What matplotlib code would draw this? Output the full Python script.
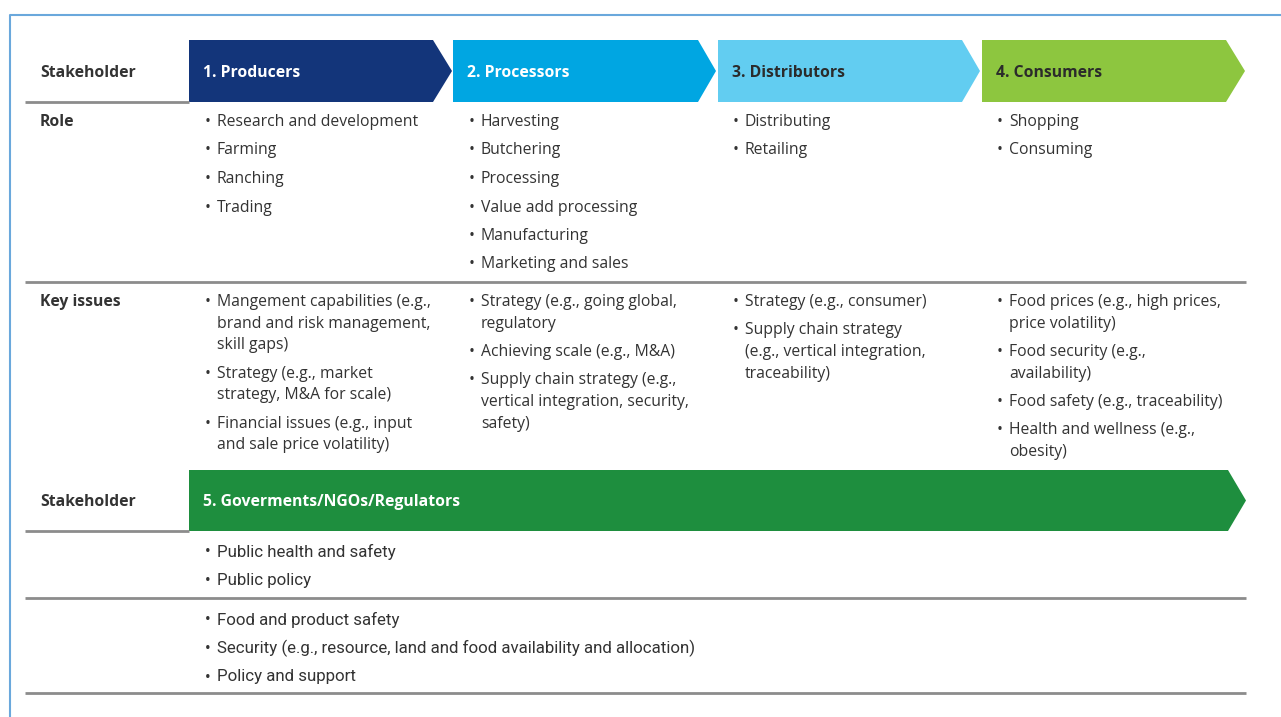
import matplotlib.pyplot as plt
from matplotlib.patches import Polygon

# Dados do diagrama
stakeholders = ['1. Producers', '2. Processors', '3. Distributors', '4. Consumers']
stage_colors = ['#13357a', '#00a6e2', '#62cdf1', '#8dc63f']
stage_text = ['white', 'white', '#2b2b2b', '#2b2b2b']

roles = [
    [['Research and development'], ['Farming'], ['Ranching'], ['Trading']],
    [['Harvesting'], ['Butchering'], ['Processing'], ['Value add processing'],
     ['Manufacturing'], ['Marketing and sales']],
    [['Distributing'], ['Retailing']],
    [['Shopping'], ['Consuming']],
]

key_issues = [
    [['Mangement capabilities (e.g.,', 'brand and risk management,', 'skill gaps)'],
     ['Strategy (e.g., market', 'strategy, M&A for scale)'],
     ['Financial issues (e.g., input', 'and sale price volatility)']],
    [['Strategy (e.g., going global,', 'regulatory'],
     ['Achieving scale (e.g., M&A)'],
     ['Supply chain strategy (e.g.,', 'vertical integration, security,', 'safety)']],
    [['Strategy (e.g., consumer)'],
     ['Supply chain strategy', '(e.g., vertical integration,', 'traceability)']],
    [['Food prices (e.g., high prices,', 'price volatility)'],
     ['Food security (e.g.,', 'availability)'],
     ['Food safety (e.g., traceability)'],
     ['Health and wellness (e.g.,', 'obesity)']],
]

gov_name = '5. Goverments/NGOs/Regulators'
gov_color = '#1e8e3e'
gov_role = ['Public health and safety', 'Public policy']
gov_issues = ['Food and product safety',
              'Security (e.g., resource, land and food availability and allocation)',
              'Policy and support']

row_labels = [('Stakeholder', 72), ('Role', 121), ('Key issues', 301), ('Stakeholder', 501)]

# Layout em pixels
W, H = 1281, 717
fig = plt.figure(figsize=(W / 100, H / 100), dpi=100)
ax = fig.add_axes([0, 0, 1, 1])
ax.set_xlim(0, W)
ax.set_ylim(H, 0)
ax.axis('off')

txt = '#333333'
font = ['Open Sans', 'DejaVu Sans']
narrow = ['Roboto', 'DejaVu Sans']
fs = 11.3
dy = 1  # pequeno ajuste vertical do texto

# moldura azul
ax.plot([10, 10, W], [H, 15, 15], color='#6aa8dc', lw=1.5)


def seta(x0, x1, tip, y0, y1, cor):
    ym = (y0 + y1) / 2
    ax.add_patch(Polygon([(x0, y0), (x1, y0), (tip, ym), (x1, y1), (x0, y1)],
                         closed=True, facecolor=cor, edgecolor='none'))


cols = [(189, 433, 452), (453, 698, 716), (718, 962, 980), (982, 1226, 1245)]
for i, (x0, x1, tip) in enumerate(cols):
    seta(x0, x1, tip, 40, 102, stage_colors[i])
    ax.text(x0 + 14, 72 + dy, stakeholders[i], color=stage_text[i], fontsize=11.3,
            fontweight='bold', va='center', family=font)

seta(189, 1228, 1246, 470, 531, gov_color)
ax.text(203, 501 + dy, gov_name, color='white', fontsize=11.3, fontweight='bold',
        va='center', family=font)

for lab, y in row_labels:
    ax.text(40, y + dy, lab, color=txt, fontsize=11.3, fontweight='bold', va='center', family=font)

# linhas horizontais
cinza = '#8c8c8c'
for x0, x1, y in [(25, 189, 102), (25, 1246, 282), (25, 189, 531), (25, 1246, 598), (25, 1246, 693)]:
    ax.plot([x0, x1], [y, y], color=cinza, lw=2, solid_capstyle='butt')


def lista(x, y, itens, gap_item=28.5, gap_linha=21.5, familia=font, size=fs):
    y += dy
    for item in itens:
        for j, linha in enumerate(item):
            if j == 0:
                ax.text(x - 12, y, '•', color=txt, fontsize=size, va='center', family=familia)
            ax.text(x, y, linha, color=txt, fontsize=size, va='center', family=familia)
            if j < len(item) - 1:
                y += gap_linha
        y += gap_item


text_x = [217, 481, 745, 1009]
for i in range(4):
    lista(text_x[i], 121, roles[i])
    lista(text_x[i], 301, key_issues[i])

lista(217, 551, [[s] for s in gov_role], familia=narrow, size=12.2)
lista(217, 619, [[s] for s in gov_issues], familia=narrow, size=12.2)

fig.savefig('out.png', dpi=100)
